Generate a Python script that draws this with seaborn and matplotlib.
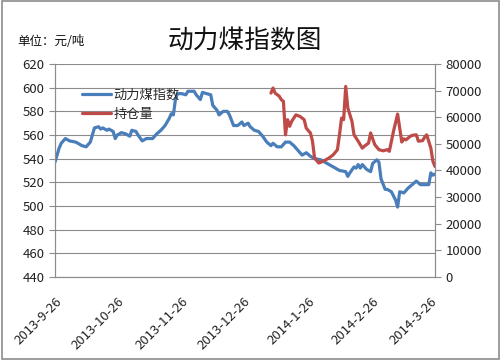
import matplotlib
matplotlib.use("Agg")
import matplotlib.pyplot as plt
import seaborn as sns
import pandas as pd

# ---- data ----
index_dates = [
    "2013-09-26", "2013-09-28", "2013-09-29", "2013-10-01", "2013-10-03", "2013-10-06",
    "2013-10-09", "2013-10-11", "2013-10-13", "2013-10-15", "2013-10-17", "2013-10-18",
    "2013-10-19", "2013-10-21", "2013-10-22", "2013-10-24", "2013-10-25", "2013-10-26",
    "2013-10-28", "2013-10-30", "2013-11-01", "2013-11-02", "2013-11-04", "2013-11-05",
    "2013-11-07", "2013-11-09", "2013-11-12", "2013-11-14", "2013-11-16", "2013-11-18",
    "2013-11-20", "2013-11-21", "2013-11-22", "2013-11-23", "2013-11-24", "2013-11-26",
    "2013-11-28", "2013-11-29", "2013-12-02", "2013-12-03", "2013-12-05", "2013-12-06",
    "2013-12-08", "2013-12-10", "2013-12-11", "2013-12-13", "2013-12-14", "2013-12-16",
    "2013-12-18", "2013-12-19", "2013-12-21", "2013-12-23", "2013-12-25", "2013-12-26",
    "2013-12-28", "2013-12-29", "2013-12-31", "2014-01-02", "2014-01-04", "2014-01-06",
    "2014-01-08", "2014-01-09", "2014-01-11", "2014-01-13", "2014-01-15", "2014-01-17",
    "2014-01-19", "2014-01-20", "2014-01-23", "2014-01-25", "2014-01-27", "2014-01-29",
    "2014-02-01", "2014-02-04", "2014-02-07", "2014-02-10", "2014-02-13", "2014-02-14",
    "2014-02-15", "2014-02-17", "2014-02-18", "2014-02-19", "2014-02-20", "2014-02-21",
    "2014-02-23", "2014-02-25", "2014-02-26", "2014-02-28", "2014-03-01", "2014-03-02",
    "2014-03-04", "2014-03-05", "2014-03-07", "2014-03-09", "2014-03-10", "2014-03-11",
    "2014-03-13", "2014-03-15", "2014-03-17", "2014-03-19", "2014-03-21", "2014-03-23",
    "2014-03-25", "2014-03-26", "2014-03-27", "2014-03-28",
]
index_values = [
    537, 549, 553, 557, 555, 554,
    551, 550, 554, 566, 567, 565,
    566, 564, 565, 563, 557, 560,
    562, 561, 559, 564, 563, 560,
    555, 557, 557, 561, 564, 568,
    574, 578, 577, 590, 595, 595,
    594, 597, 597, 594, 590, 596,
    595, 594, 585, 581, 577, 580,
    580, 577, 568, 568, 571, 568,
    570, 567, 564, 563, 559, 554,
    551, 553, 550, 550, 554, 554,
    551, 549, 543, 545, 542, 540,
    539, 536, 533, 530, 529, 525,
    528, 533, 532, 535, 532, 535,
    531, 529, 536, 539, 537, 523,
    514, 514, 512, 505, 499, 512,
    511, 515, 518, 521, 518, 518,
    518, 528, 526, 527,
]

oi_dates = [
    "2014-01-08", "2014-01-09", "2014-01-10", "2014-01-12", "2014-01-13", "2014-01-14",
    "2014-01-15", "2014-01-16", "2014-01-17", "2014-01-18", "2014-01-19", "2014-01-20",
    "2014-01-22", "2014-01-24", "2014-01-25", "2014-01-27", "2014-01-28", "2014-01-29",
    "2014-01-31", "2014-02-02", "2014-02-05", "2014-02-07", "2014-02-09", "2014-02-10",
    "2014-02-11", "2014-02-12", "2014-02-13", "2014-02-14", "2014-02-16", "2014-02-17",
    "2014-02-19", "2014-02-21", "2014-02-22", "2014-02-24", "2014-02-25", "2014-02-27",
    "2014-03-01", "2014-03-03", "2014-03-05", "2014-03-06", "2014-03-08", "2014-03-10",
    "2014-03-12", "2014-03-13", "2014-03-14", "2014-03-16", "2014-03-17", "2014-03-19",
    "2014-03-20", "2014-03-22", "2014-03-23", "2014-03-24", "2014-03-26", "2014-03-27",
    "2014-03-28",
]
oi_values = [
    69100, 71000, 69100, 67900, 66600, 66000,
    53400, 59100, 56600, 58500, 59700, 60900,
    60300, 59100, 55900, 54100, 51000, 44700,
    42800, 43400, 44700, 45900, 47800, 53400,
    59700, 59100, 71600, 63500, 58500, 53400,
    51000, 48400, 49100, 50300, 54100, 49700,
    47800, 47400, 47800, 47200, 54700, 61200,
    50700, 51900, 51500, 52800, 53200, 53400,
    51000, 51200, 52500, 53400, 48400, 43400,
    41500,
]

tick_dates = ["2013-09-26", "2013-10-26", "2013-11-26", "2013-12-26",
              "2014-01-26", "2014-02-26", "2014-03-26"]
left_ticks = list(range(440, 621, 20))
right_ticks = list(range(0, 80001, 10000))

title = "动力煤指数图"
unit_label = "单位：元/吨"
series_names = ["动力煤指数", "持仓量"]

# ---- plot ----
sns.set_theme(style="white")
plt.rcParams["font.family"] = ["Noto Sans CJK SC", "DejaVu Sans"]

df1 = pd.DataFrame({"date": pd.to_datetime(index_dates), "value": index_values})
df2 = pd.DataFrame({"date": pd.to_datetime(oi_dates), "value": oi_values})

blue = "#4A7EBB"
red = "#BE4B48"
grid_c = "#8C8C8C"

fig = plt.figure(figsize=(5, 3.6), dpi=100)
ax = fig.add_axes([0.11, 0.231, 0.76, 0.591])
ax2 = ax.twinx()

sns.lineplot(data=df1, x="date", y="value", ax=ax, color=blue, linewidth=2.3,
             label=series_names[0], legend=False)
sns.lineplot(data=df2, x="date", y="value", ax=ax2, color=red, linewidth=2.3,
             label=series_names[1], legend=False)

ax.set_ylim(440, 620)
ax.set_yticks(left_ticks)
ax2.set_ylim(0, 80000)
ax2.set_yticks(right_ticks)
ax.set_xlim(pd.Timestamp("2013-09-26"), pd.Timestamp("2014-03-28"))
td = pd.to_datetime(tick_dates)
ax.set_xticks(td)
ax.set_xticklabels([f"{d.year}-{d.month}-{d.day}" for d in td], rotation=45,
                   ha="right", rotation_mode="anchor")

ax.grid(axis="y", color=grid_c, linewidth=0.8)
ax.grid(axis="x", visible=False)
ax2.grid(False)
ax.set_xlabel("")
ax.set_ylabel("")
ax2.set_ylabel("")

for a in (ax, ax2):
    for s in a.spines.values():
        s.set_color(grid_c)
        s.set_linewidth(0.8)
    a.spines["top"].set_visible(False)
ax.tick_params(axis="both", colors=grid_c, labelcolor="#222222", labelsize=9.5,
               length=4, width=0.8, direction="out")
ax2.tick_params(axis="y", colors=grid_c, labelcolor="#222222", labelsize=9.5,
                length=4, width=0.8, direction="out")
ax.tick_params(axis="x", pad=9)
ax.tick_params(axis="y", left=True)
ax2.tick_params(axis="y", right=True)

h1, l1 = ax.get_legend_handles_labels()
h2, l2 = ax2.get_legend_handles_labels()
ax2.legend(h1 + h2, l1 + l2, loc="upper left", bbox_to_anchor=(0.058, 0.91),
           frameon=False, fontsize=9.5, handlelength=2.2, handletextpad=0.15,
           labelspacing=0.5, borderaxespad=0)

fig.text(0.49, 0.885, title, ha="center", va="center", fontsize=18.5, color="#111111")
fig.text(0.035, 0.885, unit_label, ha="left", va="center", fontsize=9, color="#111111")

border = plt.Rectangle((0.003, 0.004), 0.994, 0.992, transform=fig.transFigure,
                       fill=False, edgecolor="#8C8C8C", linewidth=1.2)
fig.patches.append(border)

fig.savefig("out.png", dpi=100)
